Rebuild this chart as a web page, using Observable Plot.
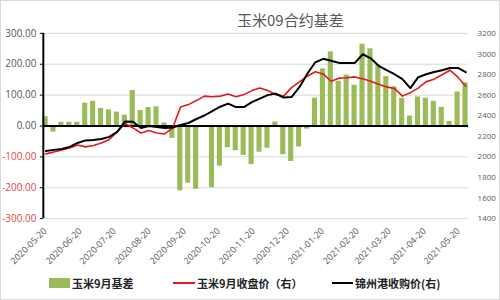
<!DOCTYPE html>
<html><head><meta charset="utf-8">
<script src="https://cdn.jsdelivr.net/npm/d3@7"></script>
<script src="https://cdn.jsdelivr.net/npm/@observablehq/plot@0.6"></script>
<style>
body{margin:0;background:#fff;}
#wrap{position:relative;width:500px;height:300px;box-sizing:border-box;border:1px solid #d9d9d9;overflow:hidden;font-family:"Noto Sans CJK SC",sans-serif;background:#fff;}
#wrap svg{position:absolute;left:-1px;top:-1px;}
#title{position:absolute;top:9px;left:236px;font-size:15px;line-height:20px;color:#595959;white-space:nowrap;}
.leg{position:absolute;top:274px;height:16px;font-size:11px;font-weight:bold;color:#222;white-space:nowrap;display:flex;align-items:center;}
.sw{display:inline-block;margin-right:2px;}
</style></head>
<body>
<div id="wrap">
  <div id="title">玉米09合约基差</div>
  <div class="leg" style="left:48px"><span class="sw" style="width:21px;height:10px;background:#9bbb59"></span>玉米9月基差</div>
  <div class="leg" style="left:172px"><span class="sw" style="width:22px;height:2px;background:#e31a1c"></span>玉米9月收盘价（右）</div>
  <div class="leg" style="left:331px"><span class="sw" style="width:21px;height:2px;background:#000"></span>锦州港收购价(右)</div>
</div>
<script>
const weeks = ["2020-05-18","2020-05-25","2020-06-01","2020-06-08","2020-06-15","2020-06-22","2020-06-29","2020-07-06","2020-07-13","2020-07-20","2020-07-27","2020-08-03","2020-08-10","2020-08-17","2020-08-24","2020-08-31","2020-09-07","2020-09-14","2020-09-21","2020-09-28","2020-10-05","2020-10-12","2020-10-19","2020-10-26","2020-11-02","2020-11-09","2020-11-16","2020-11-23","2020-11-30","2020-12-07","2020-12-14","2020-12-21","2020-12-28","2021-01-04","2021-01-11","2021-01-18","2021-01-25","2021-02-01","2021-02-08","2021-02-15","2021-02-22","2021-03-01","2021-03-08","2021-03-15","2021-03-22","2021-03-29","2021-04-05","2021-04-12","2021-04-19","2021-04-26","2021-05-03","2021-05-10","2021-05-17","2021-05-24"];
const basis = [30,-20,12,12,12,74,80,57,52,45,35,115,50,60,62,10,-40,-210,-185,-205,null,-200,-130,-70,-80,-95,-125,-85,-72,13,-93,-115,-68,-10,90,185,240,145,165,132,265,250,197,160,127,90,32,94,90,80,60,15,110,140];
const futures = [2029,2048,2068,2087,2116,2097,2111,2135,2169,2242,2324,2281,2232,2256,2232,2223,2281,2484,2508,2547,2590,2584,2590,2610,2585,2605,2644,2670,2645,2605,2590,2673,2729,2784,2827,2806,2735,2765,2769,2777,2758,2735,2706,2680,2665,2590,2624,2668,2731,2755,2798,2842,2774,2687];
const jinzhou = [2058,2068,2077,2097,2135,2160,2165,2174,2194,2242,2344,2342,2281,2300,2290,2281,2285,2310,2329,2368,2402,2445,2487,2518,2484,2484,2532,2566,2600,2615,2576,2581,2677,2808,2919,2953,2934,2913,2913,2913,2997,2958,2885,2842,2803,2755,2668,2774,2803,2825,2842,2864,2864,2823];
const leftTicks = [-300,-200,-100,0,100,200,300];
const rightTicks = [1400,1600,1800,2000,2200,2400,2600,2800,3000,3200];
const xTicks = ["2020-05-20","2020-06-20","2020-07-20","2020-08-20","2020-09-20","2020-10-20","2020-11-20","2020-12-20","2021-01-20","2021-02-20","2021-03-20","2021-04-20","2021-05-20"];

const parse = d3.utcParse("%Y-%m-%d");
const toLeft = v => (v - 2300) / 3;
const rows = weeks.map((w, i) => {
  const s = parse(w);
  return {start: s, end: new Date(+s + 4.5 * 864e5), mid: new Date(+s + 2.5 * 864e5),
          basis: basis[i], fut: toLeft(futures[i]), spot: toLeft(jinzhou[i])};
});
const xDomain = [new Date("2020-05-18T06:00Z"), new Date("2021-05-29T00:00Z")];
const fmt2 = d => d.toFixed(2);

const chart = Plot.plot({
  width: 500, height: 300,
  marginTop: 33, marginBottom: 81, marginLeft: 43, marginRight: 30,
  style: {fontFamily: "Open Sans", fontSize: "10px", color: "#595959", background: "transparent"},
  x: {type: "utc", domain: xDomain},
  y: {domain: [-300, 300]},
  marks: [
    Plot.ruleY(leftTicks.filter(d => d !== 0), {stroke: "#d9d9d9", strokeWidth: 1}),
    Plot.rectY(rows.filter(r => r.basis != null), {x1: "start", x2: "end", y: "basis", fill: "#9bbb59"}),
    Plot.ruleY([0], {stroke: "#000", strokeWidth: 2}),
    Plot.lineY(rows, {x: "mid", y: "fut", stroke: "#e31a1c", strokeWidth: 1.6}),
    Plot.lineY(rows, {x: "mid", y: "spot", stroke: "#000", strokeWidth: 2}),
    Plot.ruleX([xDomain[0]], {stroke: "#000", strokeWidth: 2}),
    Plot.axisY(leftTicks.filter(d => d >= 0), {anchor: "left", tickSize: 3, tickPadding: 4, stroke: "#000", fill: "#595959", fontSize: 10, tickFormat: fmt2, label: null}),
    Plot.axisY(leftTicks.filter(d => d < 0), {anchor: "left", tickSize: 3, tickPadding: 4, stroke: "#000", fill: "#e04a4a", fontSize: 10, tickFormat: fmt2, label: null}),
    Plot.axisY(rightTicks.map(toLeft), {anchor: "right", tickSize: 0, tickPadding: 9, fill: "#595959", fontSize: 8, tickFormat: d => String(Math.round(d * 3 + 2300)), label: null}),
    Plot.axisX(xTicks.map(parse), {anchor: "bottom", tickSize: 0, tickPadding: 11, tickRotate: -45, fontSize: 9, fill: "#595959", tickFormat: d3.utcFormat("%Y-%m-%d"), label: null})
  ]
});
document.getElementById("wrap").prepend(chart);
</script>
</body></html>
